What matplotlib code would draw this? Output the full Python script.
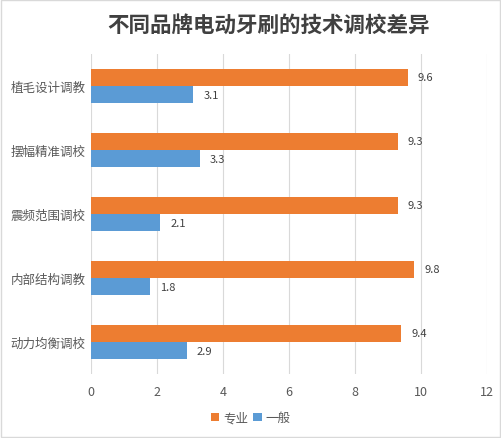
import matplotlib.pyplot as plt
import numpy as np

plt.rcParams['font.family'] = ['Noto Sans CJK SC', 'DejaVu Sans']

categories = ["植毛设计调教", "摆幅精准调校", "震频范围调校", "内部结构调教", "动力均衡调校"]
pro_vals = [9.6, 9.3, 9.3, 9.8, 9.4]
normal_vals = [3.1, 3.3, 2.1, 1.8, 2.9]
series_names = ["专业", "一般"]

fig = plt.figure(figsize=(5.01, 4.39), dpi=100)
ax = fig.add_axes([0.1816, 0.1458, 0.972 - 0.1816, 0.8747 - 0.1458])

y = np.arange(len(categories))
h = 0.266
b1 = ax.barh(y - h / 2, pro_vals, height=h, color='#ED7D31', label=series_names[0], zorder=3)
b2 = ax.barh(y + h / 2, normal_vals, height=h, color='#5B9BD5', label=series_names[1], zorder=3)

for bars, vals in ((b1, pro_vals), (b2, normal_vals)):
    for bar, v in zip(bars, vals):
        ax.text(v + 0.3, bar.get_y() + bar.get_height() / 2, f"{v}",
                va='center', ha='left', fontsize=8, color='#404040')

ax.set_xlim(0, 12)
ax.set_xticks(range(0, 13, 2))
ax.set_ylim(len(categories) - 0.5, -0.5)
ax.set_yticks(y)
ax.set_yticklabels(categories)
ax.tick_params(axis='both', length=0, labelsize=9, colors='#595959')
ax.tick_params(axis='x', pad=8)
ax.tick_params(axis='y', pad=4)
ax.grid(axis='x', color='#D9D9D9', linewidth=0.8, zorder=0)
for s in ax.spines.values():
    s.set_visible(False)

fig.text(0.537, 0.943, "不同品牌电动牙刷的技术调校差异", ha='center', va='center',
         fontsize=15.5, fontweight='bold', color='#404040')

fig.legend(loc='center', bbox_to_anchor=(0.5, 0.046), ncol=2, frameon=False,
           fontsize=9, handlelength=0.7, handleheight=0.7, handletextpad=0.3,
           columnspacing=0.4, labelcolor='#595959')

border = plt.Rectangle((0.002, 0.002), 0.996, 0.996, transform=fig.transFigure,
                       fill=False, edgecolor='#D9D9D9', linewidth=1)
fig.patches.append(border)

fig.savefig("out.png", dpi=100)
